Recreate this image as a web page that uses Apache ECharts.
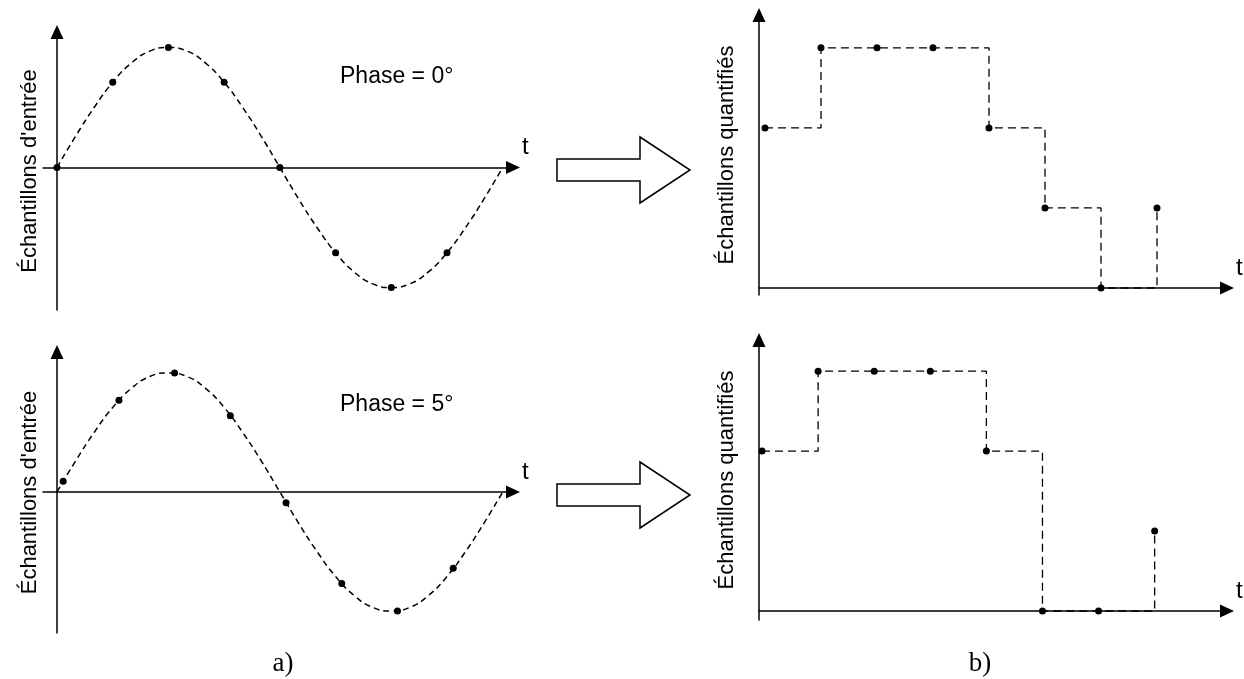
<!DOCTYPE html>
<html>
<head>
<meta charset="utf-8">
<script src="https://cdn.jsdelivr.net/npm/echarts@6/dist/echarts.min.js"></script>
<style>
html,body{margin:0;padding:0;background:#fff}
#main{width:1244px;height:679px}
</style>
</head>
<body>
<div id="main"></div>
<script>
// signal d'entrée, angle en degrés
var curveDeg = [0, 15, 30, 45, 60, 75, 90, 105, 120, 135, 150, 165, 180, 195, 210, 225, 240, 255, 270, 285, 300, 315, 330, 345, 360];
var curveVal = [0, 0.26, 0.5, 0.71, 0.87, 0.97, 1, 0.97, 0.87, 0.71, 0.5, 0.26, 0, -0.26, -0.5, -0.71, -0.87, -0.97, -1, -0.97, -0.87, -0.71, -0.5, -0.26, 0];

// échantillons
var phase0Deg = [0, 45, 90, 135, 180, 225, 270, 315];
var phase0Val = [0, 0.71, 1, 0.71, 0, -0.71, -1, -0.71];
var phase5Deg = [5, 50, 95, 140, 185, 230, 275, 320];
var phase5Val = [0.09, 0.77, 1, 0.64, -0.09, -0.77, -1, -0.64];

// niveaux quantifiés (0..3)
var sampleIdx = [0, 1, 2, 3, 4, 5, 6, 7];
var quant0 = [2, 3, 3, 3, 2, 1, 0, 1];
var quant5 = [2, 3, 3, 3, 2, 0, 0, 1];

var phaseLabels = ['Phase = 0°', 'Phase = 5°'];
var nameIn = "Échantillons d'entrée";
var nameOut = 'Échantillons quantifiés';
var panelLabels = ['a)', 'b)'];

var font = 'Liberation Sans, Arial, sans-serif';
var serif = 'Liberation Serif, Times New Roman, serif';

function zip(xs, ys) {
    return xs.map(function (x, i) { return [x, ys[i]]; });
}

function line(onZero) {
    return {
        show: true,
        onZero: onZero,
        symbol: ['none', 'triangle'],
        symbolSize: [13, 14],
        lineStyle: {color: '#000', width: 1.5}
    };
}

function xAx(gi, min, max) {
    return {
        type: 'value', gridIndex: gi, min: min, max: max,
        axisLine: line(true), axisTick: {show: false}, axisLabel: {show: false}, splitLine: {show: false},
        name: 't', nameLocation: 'end', nameGap: 9,
        nameTextStyle: {color: '#000', fontFamily: font, fontSize: 24, verticalAlign: 'bottom', padding: [0, 0, 8, 0]}
    };
}

function yAx(gi, min, max, onZero, name, gap) {
    return {
        type: 'value', gridIndex: gi, min: min, max: max,
        axisLine: line(onZero), axisTick: {show: false}, axisLabel: {show: false}, splitLine: {show: false},
        name: name, nameLocation: 'middle', nameRotate: 90, nameGap: gap,
        nameTextStyle: {color: '#000', fontFamily: font, fontSize: 22}
    };
}

var dashed = {color: '#000', width: 1.5, type: [6, 4]};
var dashedStep = {color: '#000', width: 1.3, type: [8, 5]};

function curve(gi) {
    return {
        type: 'line', xAxisIndex: gi, yAxisIndex: gi, data: zip(curveDeg, curveVal),
        smooth: true, showSymbol: false, lineStyle: dashed, silent: true
    };
}
function dots(gi, xs, ys) {
    return {
        type: 'scatter', xAxisIndex: gi, yAxisIndex: gi, data: zip(xs, ys),
        symbol: 'circle', symbolSize: 7, itemStyle: {color: '#000', opacity: 1}, z: 5
    };
}
function stairs(gi, ys) {
    return {
        type: 'line', xAxisIndex: gi, yAxisIndex: gi, data: zip(sampleIdx, ys),
        step: 'end', symbol: 'circle', symbolSize: 7, showSymbol: true,
        itemStyle: {color: '#000', opacity: 1}, lineStyle: dashedStep, z: 5
    };
}

function blockArrow(y) {
    // flèche creuse entre a) et b)
    return {
        type: 'polygon',
        shape: {points: [[557, y - 11], [640, y - 11], [640, y - 33], [690, y], [640, y + 33], [640, y + 11], [557, y + 11]]},
        style: {fill: '#fff', stroke: '#000', lineWidth: 1.5}
    };
}

var chart = echarts.init(document.getElementById('main'));
chart.setOption({
    animation: false,
    backgroundColor: '#fff',
    grid: [
        {left: 43, top: 32, width: 470, height: 278},
        {left: 43, top: 352, width: 470, height: 281},
        {left: 759, top: 15, width: 468, height: 280},
        {left: 759, top: 340, width: 468, height: 280}
    ],
    xAxis: [
        xAx(0, -11.3, 368.3),
        xAx(1, -11.3, 368.3),
        xAx(2, -0.107, 8.25),
        xAx(3, -0.054, 8.29)
    ],
    yAxis: [
        yAx(0, -1.1875, 1.129, true, nameIn, 2),
        yAx(1, -1.185, 1.176, true, nameIn, 2),
        yAx(2, -0.0875, 3.41, false, nameOut, 21),
        yAx(3, -0.1125, 3.39, false, nameOut, 21)
    ],
    series: [
        curve(0), dots(0, phase0Deg, phase0Val),
        curve(1), dots(1, phase5Deg, phase5Val),
        stairs(2, quant0),
        stairs(3, quant5)
    ],
    graphic: [
        blockArrow(170),
        blockArrow(495),
        {type: 'text', x: 340, y: 65, style: {text: phaseLabels[0], font: '23px ' + font, fill: '#000'}},
        {type: 'text', x: 340, y: 393, style: {text: phaseLabels[1], font: '23px ' + font, fill: '#000'}},
        {type: 'text', x: 283, y: 664, style: {text: panelLabels[0], font: '27px ' + serif, fill: '#000', align: 'center', verticalAlign: 'middle'}},
        {type: 'text', x: 980, y: 664, style: {text: panelLabels[1], font: '27px ' + serif, fill: '#000', align: 'center', verticalAlign: 'middle'}}
    ]
});
</script>
</body>
</html>
